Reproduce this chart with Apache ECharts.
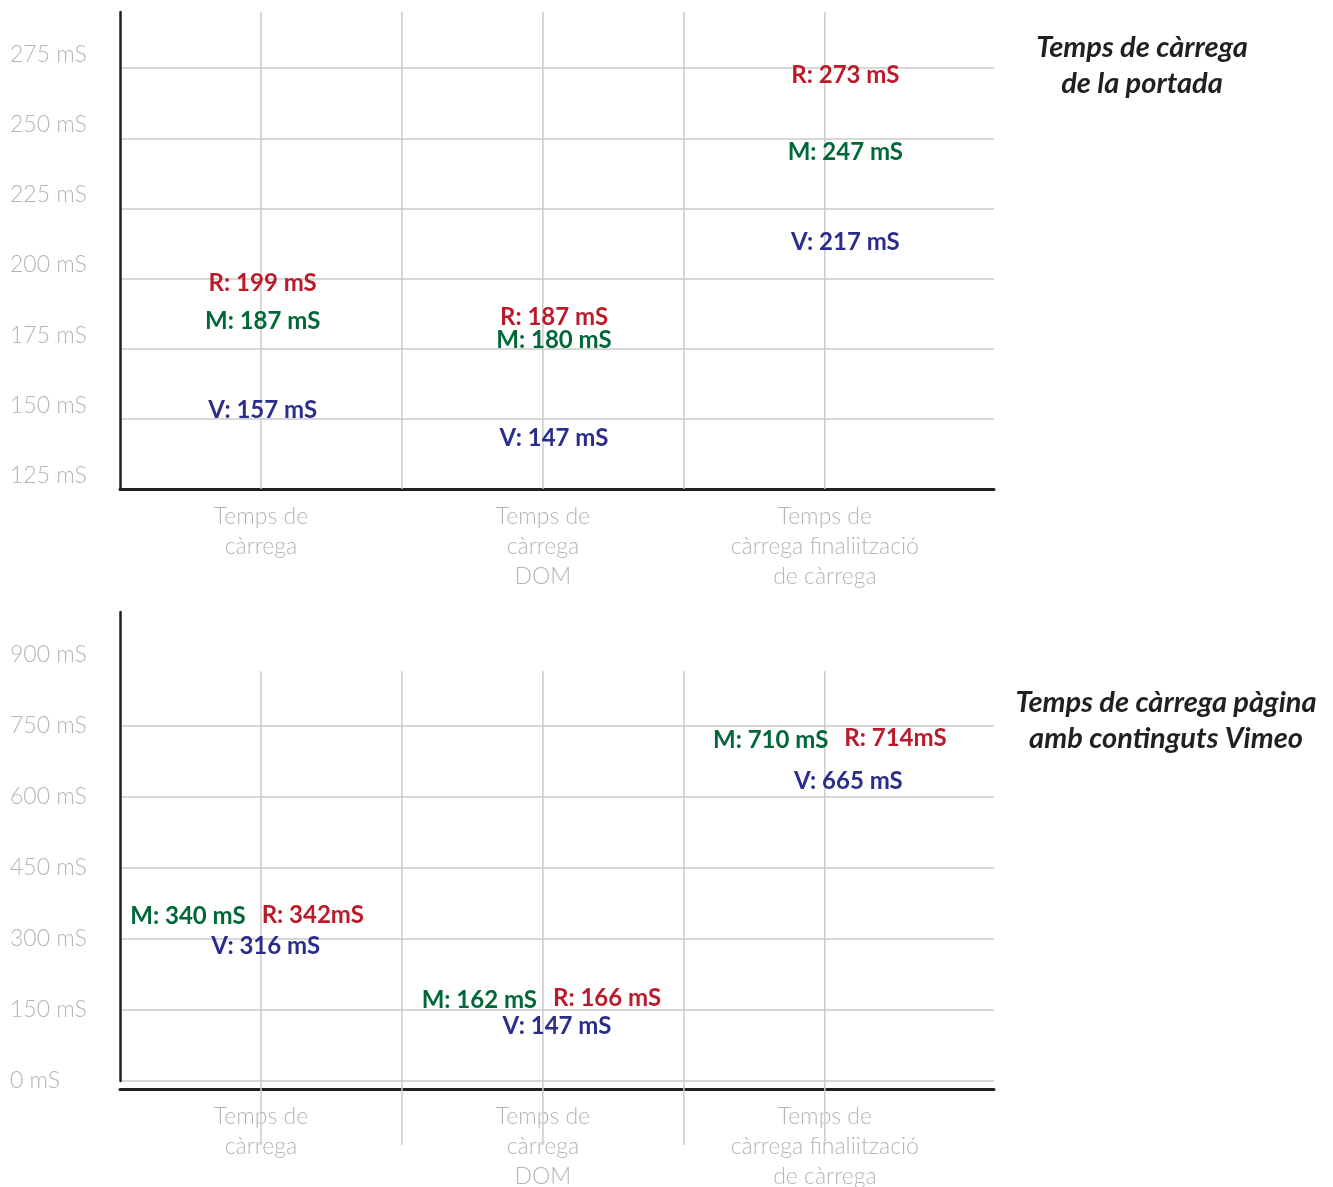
<!DOCTYPE html>
<html>
<head>
<meta charset="utf-8">
<title>Temps de càrrega</title>
<script src="https://cdn.jsdelivr.net/npm/echarts@6/dist/echarts.min.js"></script>
<style>
  html, body { margin: 0; padding: 0; background: #ffffff; }
  #chart { width: 1333px; height: 1187px; }
</style>
</head>
<body>
<div id="chart"></div>
<script>
// Categories shared by both panels
const categories = [
  'Temps de\ncàrrega',
  'Temps de\ncàrrega\nDOM',
  'Temps de\ncàrrega finaliització\nde càrrega'
];

// Panel 1: Temps de càrrega de la portada (mS)
const homeR = [199, 187, 273];
const homeM = [187, 180, 247];
const homeV = [157, 147, 217];
const homeTicks = [125, 150, 175, 200, 225, 250, 275];

// Panel 2: Temps de càrrega pàgina amb continguts Vimeo (mS)
const vimeoM = [340, 162, 710];
const vimeoR = [342, 166, 714];
const vimeoV = [316, 147, 665];
const vimeoRUnit = ['mS', ' mS', 'mS'];
const vimeoTicks = [0, 150, 300, 450, 600, 750, 900];

const titles = ['Temps de càrrega\nde la portada', 'Temps de càrrega pàgina\namb continguts Vimeo'];

// ---- styling ----
const FONT = 'Lato, "Open Sans", sans-serif';
const RED = '#bb1a2b';
const GREEN = '#006837';
const BLUE = '#2a2d8c';
const AXIS = '#231f20';
const GRIDLINE = '#cacaca';
const SOFT = '#b5b5b5';

// vertical guides: category centres and the boundaries between categories
const guideX = [];
categories.forEach((c, i) => {
  guideX.push(i + 0.5);
  if (i < categories.length - 1) guideX.push(i + 1);
});

function categoryAt(v) {
  const k = Math.round(v * 2);
  return k % 2 === 1 ? categories[(k - 1) / 2] : '';
}

function guideRenderer(yFrom, yTo) {
  return function (params, api) {
    const x = api.value(0);
    const a = api.coord([x, yFrom]);
    const b = api.coord([x, yTo]);
    return {
      type: 'line',
      shape: { x1: a[0], y1: a[1], x2: b[0], y2: b[1] },
      style: { stroke: GRIDLINE, lineWidth: 1.5 }
    };
  };
}

function valueLabel(color, prefix, units, opts) {
  return Object.assign({
    show: true,
    position: 'inside',
    color: color,
    opacity: 1,
    textBorderWidth: 0,
    textBorderColor: 'transparent',
    fontFamily: FONT,
    fontWeight: 'bold',
    fontSize: 24,
    formatter: p => prefix + p.value[1] + (units ? units[p.dataIndex] : ' mS')
  }, opts);
}

function pointSeries(xAxisIndex, yAxisIndex, values, label) {
  return {
    type: 'scatter',
    xAxisIndex: xAxisIndex,
    yAxisIndex: yAxisIndex,
    symbolSize: 1,
    itemStyle: { color: 'rgba(255,255,255,0)' },
    silent: true,
    z: 5,
    data: values.map((v, i) => [i, v]),
    label: label
  };
}

const xValueAxisBase = {
  type: 'value',
  position: 'bottom',
  min: 0,
  max: 3.1,
  interval: 0.5,
  axisLine: { show: true, onZero: false, lineStyle: { color: AXIS, width: 3 } },
  axisTick: { show: false },
  splitLine: { show: false },
  axisLabel: {
    formatter: categoryAt,
    color: SOFT,
    fontFamily: FONT,
    fontWeight: 300,
    fontSize: 23,
    lineHeight: 30,
    margin: 13,
    showMinLabel: false,
    showMaxLabel: false
  }
};

const xCatAxisBase = {
  type: 'category',
  position: 'top',
  data: categories,
  boundaryGap: true,
  show: false
};

const homeStep = homeTicks[1] - homeTicks[0];
const vimeoStep = vimeoTicks[1] - vimeoTicks[0];

const titleStyle = { fontFamily: FONT, fontStyle: 'italic', fontWeight: 'bold', fontSize: 29, lineHeight: 36, color: AXIS };

const option = {
  animation: false,
  backgroundColor: '#ffffff',
  title: [
    { text: titles[0], left: 1142, top: 30, padding: 0, textAlign: 'center', textStyle: titleStyle },
    { text: titles[1], left: 1166, top: 685, padding: 0, textAlign: 'center', textStyle: titleStyle }
  ],
  grid: [
    { left: 120, right: 339, top: 12, bottom: 698, outerBoundsMode: 'none' },
    { left: 120, right: 339, top: 612, bottom: 106, outerBoundsMode: 'none' }
  ],
  xAxis: [
    Object.assign({}, xValueAxisBase, { gridIndex: 0 }),
    Object.assign({}, xCatAxisBase, { gridIndex: 0 }),
    Object.assign({}, xValueAxisBase, { gridIndex: 1, offset: 8 }),
    Object.assign({}, xCatAxisBase, { gridIndex: 1 })
  ],
  yAxis: [
    {
      gridIndex: 0,
      type: 'value',
      min: homeTicks[0],
      max: 295,
      interval: homeStep,
      axisLine: { show: true, onZero: false, lineStyle: { color: AXIS, width: 2.5 } },
      axisTick: { show: false },
      splitLine: { show: true, showMinLine: false, showMaxLine: false, lineStyle: { color: GRIDLINE, width: 1.5 } },
      axisLabel: {
        formatter: v => homeTicks.includes(v) ? v + ' mS' : '',
        showMaxLabel: false,
        align: 'left',
        verticalAlign: 'bottom',
        padding: [0, 0, 2, 0],
        margin: 110,
        color: SOFT,
        fontFamily: FONT,
        fontWeight: 300,
        fontSize: 23
      }
    },
    {
      gridIndex: 1,
      type: 'value',
      min: vimeoTicks[0],
      max: 990,
      interval: vimeoStep,
      axisLine: { show: true, onZero: false, lineStyle: { color: AXIS, width: 2.5 } },
      axisTick: { show: false },
      splitLine: {
        show: true, showMaxLine: false,
        lineStyle: {
          // the topmost labelled level carries no rule
          color: vimeoTicks.map((t, i) => i === vimeoTicks.length - 1 ? 'rgba(0,0,0,0)' : GRIDLINE),
          width: 1.5
        }
      },
      axisLabel: {
        formatter: v => vimeoTicks.includes(v) ? v + ' mS' : '',
        showMaxLabel: false,
        align: 'left',
        verticalAlign: 'middle',
        margin: 110,
        color: SOFT,
        fontFamily: FONT,
        fontWeight: 300,
        fontSize: 23
      }
    }
  ],
  series: [
    // panel 1 guides
    {
      type: 'custom', xAxisIndex: 0, yAxisIndex: 0, clip: false, silent: true, z: 1,
      data: guideX.map(x => [x, homeTicks[0]]),
      encode: { x: 0, y: 1 },
      renderItem: guideRenderer(295, homeTicks[0])
    },
    pointSeries(1, 0, homeR, valueLabel(RED, 'R: ', null, { offset: [-3, 2] })),
    pointSeries(1, 0, homeM, valueLabel(GREEN, 'M: ', null, { offset: [-3, 6] })),
    pointSeries(1, 0, homeV, valueLabel(BLUE, 'V: ', null, { offset: [-3, 11] })),

    // panel 2 guides
    {
      type: 'custom', xAxisIndex: 2, yAxisIndex: 1, clip: false, silent: true, z: 1,
      data: guideX.map(x => [x, vimeoTicks[0]]),
      encode: { x: 0, y: 1 },
      renderItem: guideRenderer(865, -135)
    },
    pointSeries(3, 1, vimeoM, valueLabel(GREEN, 'M: ', null, { align: 'right', offset: [-20, -4] })),
    pointSeries(3, 1, vimeoR, valueLabel(RED, 'R: ', vimeoRUnit, { align: 'left', offset: [-4, -4] })),
    pointSeries(3, 1, vimeoV, valueLabel(BLUE, 'V: ', null, { offset: [0, 15] }))
  ]
};

const chart = echarts.init(document.getElementById('chart'), null, { renderer: 'canvas' });
chart.setOption(option);
</script>
</body>
</html>
